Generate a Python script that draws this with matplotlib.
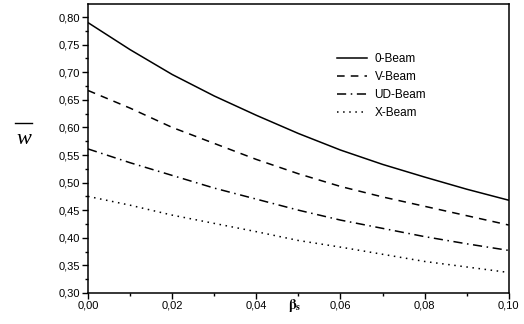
import matplotlib
matplotlib.use('Agg')
import matplotlib.pyplot as plt
from matplotlib.lines import Line2D
from matplotlib.ticker import MultipleLocator, FuncFormatter

# data
beta_s = [0.00, 0.01, 0.02, 0.03, 0.04, 0.05, 0.06, 0.07, 0.08, 0.09, 0.10]
w_0beam = [0.790, 0.741, 0.696, 0.657, 0.622, 0.589, 0.559, 0.533, 0.510, 0.488, 0.468]
w_vbeam = [0.667, 0.635, 0.600, 0.571, 0.542, 0.516, 0.493, 0.474, 0.457, 0.440, 0.423]
w_udbeam = [0.561, 0.536, 0.513, 0.490, 0.470, 0.450, 0.432, 0.417, 0.402, 0.389, 0.377]
w_xbeam = [0.475, 0.459, 0.441, 0.426, 0.411, 0.395, 0.383, 0.370, 0.357, 0.347, 0.337]
labels = ['0-Beam', 'V-Beam', 'UD-Beam', 'X-Beam']

plt.rcParams['font.family'] = ['Liberation Sans', 'DejaVu Sans']
plt.rcParams['mathtext.fontset'] = 'stix'

fig = plt.figure(figsize=(5.24, 3.24), dpi=100)
ax = fig.add_axes([0.168, 0.096, 0.803, 0.892])

styles = ['-', (0, (5, 4)), (0, (6, 3, 1, 3)), (0, (1, 3))]
for ys, lab, ls in zip([w_0beam, w_vbeam, w_udbeam, w_xbeam], labels, styles):
    ax.plot(beta_s, ys, color='black', lw=1.1, ls=ls, label=lab)

ax.set_xlim(0, 0.10)
ax.set_ylim(0.30, 0.824)
ax.xaxis.set_major_locator(MultipleLocator(0.02))
ax.xaxis.set_minor_locator(MultipleLocator(0.01))
ax.yaxis.set_major_locator(MultipleLocator(0.05))
ax.yaxis.set_minor_locator(MultipleLocator(0.025))
comma = FuncFormatter(lambda v, p: ('%.2f' % v).replace('.', ','))
ax.xaxis.set_major_formatter(comma)
ax.yaxis.set_major_formatter(comma)
ax.tick_params(which='major', direction='out', length=4, width=1, labelsize=8, pad=1.5)
ax.tick_params(which='minor', direction='out', length=2.5, width=1)
for sp in ax.spines.values():
    sp.set_linewidth(1.1)

# x label sits between the 0,04 and 0,06 tick labels
ax.text(0.492, -0.045, r'$\mathbf{\beta}_{\mathbf{s}}$', transform=ax.transAxes,
        ha='center', va='center', fontsize=10)

# y label: italic w with a bar above it
fig.text(0.045, 0.568, 'w', family='Liberation Serif', style='italic',
         ha='center', va='center', fontsize=16)
fig.add_artist(Line2D([0.029, 0.061], [0.620, 0.620], transform=fig.transFigure,
                      color='black', lw=1.0))

leg = ax.legend(loc='upper left', bbox_to_anchor=(0.58, 0.845), frameon=False,
                fontsize=8.5, handlelength=2.6, handletextpad=0.6,
                labelspacing=0.5, borderaxespad=0)

fig.savefig('out.png', dpi=100)
